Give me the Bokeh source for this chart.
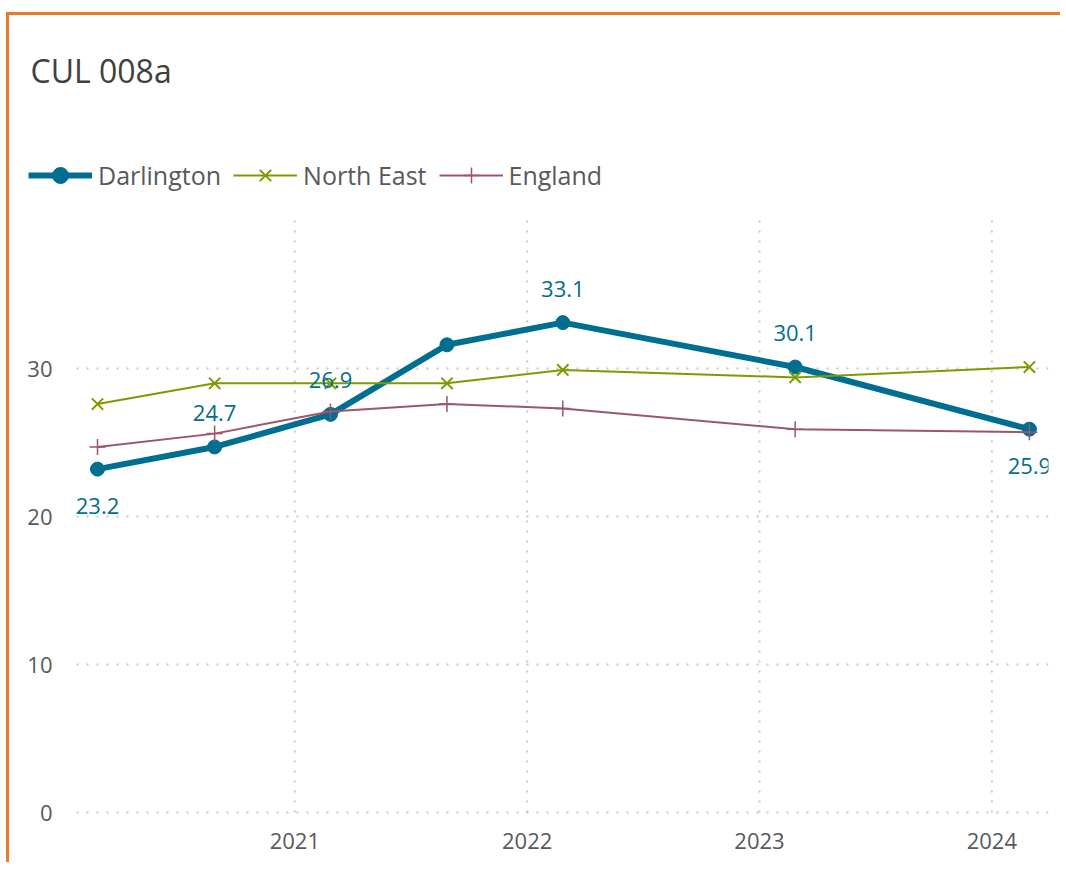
from datetime import datetime
from bokeh.plotting import figure
from bokeh.models import (ColumnDataSource, Legend, LegendItem, FixedTicker,
                          DatetimeTickFormatter, Range1d, Label)
from bokeh.core.properties import value
from bokeh.embed import file_html
from bokeh.resources import INLINE

# ---- data ----
dates = ["2020-02-26", "2020-08-28", "2021-02-26", "2021-08-28",
         "2022-02-26", "2023-02-26", "2024-02-29"]
darlington = [23.2, 24.7, 26.9, 31.6, 33.1, 30.1, 25.9]
north_east = [27.6, 29.0, 29.0, 29.0, 29.9, 29.4, 30.1]
england = [24.7, 25.6, 27.1, 27.6, 27.3, 25.9, 25.7]
darlington_labels = ["23.2", "24.7", "26.9", "", "33.1", "30.1", "25.9"]
y_ticks = [0, 10, 20, 30]
y_axis_min = 0
y_axis_max = 40
x_axis_start = datetime(2020, 1, 24)
x_axis_end = datetime(2024, 3, 30)
x_tick_years = [2021, 2022, 2023, 2024]
title_text = "CUL 008a"

FONT = "Open Sans"
C_DAR = "#006E91"
C_NE = "#7A9C00"
C_ENG = "#9B556E"
C_TXT = "#595959"
GRID = "#C8C8C8"

# geometry (pixels): the plotting canvas also hosts the header (title and
# legend) and the axis labels, so the ranges are widened to leave room for them
W, H = 1054, 850
HEADER = 205        # above the chart area
BOTTOM_PAD = 53     # below the chart area (x labels)
LEFT_PAD = 67       # left of the chart area (y labels)
BORDER_RIGHT = 15
frame_w = W - BORDER_RIGHT
chart_h = H - HEADER - BOTTOM_PAD
u_per_px = (y_axis_max - y_axis_min) / chart_h
y_start = y_axis_min - BOTTOM_PAD * u_per_px
y_end = y_axis_max + HEADER * u_per_px
span = x_axis_end - x_axis_start
x_start_ext = x_axis_start - span * (LEFT_PAD / (frame_w - LEFT_PAD))

x = [datetime.fromisoformat(d) for d in dates]
n = len(x)
offsets = [37 if (i == 0 or i == n - 1) else -34 for i in range(n)]
src = ColumnDataSource(dict(x=x, dar=darlington, ne=north_east, eng=england,
                            lab=darlington_labels, yoff=offsets))

p = figure(width=W, height=H, x_axis_type="datetime",
           output_backend="svg", toolbar_location=None,
           x_range=Range1d(x_start_ext, x_axis_end),
           y_range=Range1d(y_start, y_end),
           min_border_left=0, min_border_right=BORDER_RIGHT, min_border_top=0,
           min_border_bottom=0,
           styles={"border-left": "3px solid #E8792A",
                   "border-top": "3px solid #E8792A",
                   "margin-left": "6px", "margin-top": "12px"})
p.outline_line_color = None
p.background_fill_color = "white"
p.border_fill_color = "white"

# axes
tick_dt = [datetime(yv, 1, 1) for yv in x_tick_years]
tick_ms = [d.timestamp() * 1000 for d in tick_dt]
p.xaxis.ticker = FixedTicker(ticks=tick_ms)
p.xaxis.formatter = DatetimeTickFormatter(years="%Y", months="%Y", days="%Y",
                                          hours="%Y", minutes="%Y")
p.xaxis.fixed_location = y_axis_min
p.yaxis.ticker = FixedTicker(ticks=y_ticks)
p.yaxis.fixed_location = x_axis_start.timestamp() * 1000
for ax in (p.xaxis, p.yaxis):
    ax.axis_line_color = None
    ax.major_tick_line_color = None
    ax.minor_tick_line_color = None
    ax.major_label_text_font = FONT
    ax.major_label_text_font_size = "22px"
    ax.major_label_text_color = C_TXT
p.yaxis.major_label_standoff = 18
p.xaxis.major_label_standoff = 14

p.ygrid.grid_line_color = None
p.xgrid.grid_line_color = None
# dotted grid limited to the chart area
p.segment(x0=tick_dt, y0=[y_axis_min] * len(tick_dt), x1=tick_dt,
          y1=[y_axis_max] * len(tick_dt), line_color=GRID,
          line_dash="2 8", line_width=2)
p.segment(x0=[x_axis_start] * len(y_ticks), y0=y_ticks,
          x1=[x_axis_end] * len(y_ticks), y1=y_ticks, line_color=GRID,
          line_dash="2 8", line_width=2)

# series
l1 = p.line("x", "dar", source=src, line_color=C_DAR, line_width=6)
s1 = p.scatter("x", "dar", source=src, marker="circle", size=14,
               fill_color=C_DAR, line_color=C_DAR)
l2 = p.line("x", "ne", source=src, line_color=C_NE, line_width=2)
s2 = p.scatter("x", "ne", source=src, marker="x", size=16,
               line_color=C_NE, line_width=2)
l3 = p.line("x", "eng", source=src, line_color=C_ENG, line_width=2)
s3 = p.scatter("x", "eng", source=src, marker="cross", size=16,
               line_color=C_ENG, line_width=1.5)

p.text("x", "dar", text="lab", source=src, y_offset="yoff",
       text_align="center", text_baseline="middle",
       text_font=value(FONT), text_font_size="22px", text_color=C_DAR)

legend = Legend(items=[LegendItem(label="Darlington", renderers=[l1, s1]),
                       LegendItem(label="North East", renderers=[l2, s2]),
                       LegendItem(label="England", renderers=[l3, s3])],
                orientation="horizontal", location=(19, 670),
                glyph_width=64, glyph_height=40, label_standoff=6,
                spacing=12, padding=0, margin=0,
                label_text_font=FONT, label_text_font_size="25px",
                label_text_color=C_TXT, border_line_color=None,
                background_fill_alpha=0)
p.add_layout(legend, "center")

title = Label(text=title_text, x=21, y=795, x_units="screen",
              y_units="screen", text_font=FONT, text_font_size="32px",
              text_color="#404040", text_baseline="alphabetic")
p.add_layout(title)

open("out.html", "w").write(file_html(p, INLINE))
